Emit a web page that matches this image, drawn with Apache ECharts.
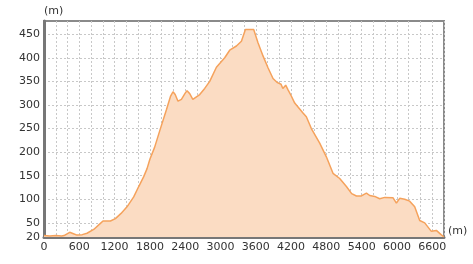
<!DOCTYPE html>
<html><head><meta charset="utf-8">
<script src="https://cdn.jsdelivr.net/npm/echarts@6/dist/echarts.min.js"></script>
<style>html,body{margin:0;padding:0;background:#fff}#c{width:473px;height:264px}</style>
</head><body><div id="c"></div>
<script>
var distances = [0,100,200,300,340,437,500,561,650,731,845,959,1003,1129,1214,1310,1411,1525,1610,1695,1752,1800,1880,1967,2081,2150,2193,2230,2278,2336,2400,2431,2477,2530,2562,2647,2732,2817,2931,3072,3157,3271,3356,3424,3565,3638,3723,3808,3893,3960,4030,4060,4109,4149,4200,4262,4403,4460,4545,4687,4800,4913,5027,5141,5230,5311,5396,5481,5537,5622,5707,5792,5934,5991,6047,6132,6217,6302,6387,6472,6585,6670,6750,6800];
var elevations = [23,22,23,22,23,30,27,24,25,28,36,49,54,54,59,70,84,105,127,148,165,185,210,245,290,318,328,322,308,312,325,330,324,312,308,322,335,350,380,400,416,425,435,460,460,432,404,379,356,348,344,335,342,332,320,304,283,275,250,219,190,155,144,127,112,107,107,113,108,106,101,104,103,92,102,100,96,84,55,50,32,34,25,20];
var yTicks = [20,50,100,150,200,250,300,350,400,450];
var xLabelStep = 600;

var data = distances.map(function(d,i){return [d, elevations[i]];});
var chart = echarts.init(document.getElementById('c'));
var font = 'DejaVu Sans';
chart.setOption({
  animation:false,
  grid:{left:44,right:29,top:21,bottom:27,show:true,borderColor:'#8a8a8a',borderWidth:2},
  xAxis:{type:'value',min:0,max:6800,interval:200,
    name:'(m)',nameLocation:'end',nameGap:4,
    nameTextStyle:{fontFamily:font,fontSize:11,color:'#333',verticalAlign:'bottom'},
    axisLine:{lineStyle:{color:'#777',width:3}},
    axisTick:{show:false},
    axisLabel:{fontFamily:font,fontSize:11,color:'#333',margin:5,
      formatter:function(v){return v % xLabelStep === 0 ? String(v) : '';}},
    splitLine:{show:true,lineStyle:{color:'#c8c8c8',type:[2,2],width:1}}
  },
  yAxis:{type:'value',min:20,max:478,
    name:'(m)',nameLocation:'end',nameGap:4,
    nameTextStyle:{fontFamily:font,fontSize:11,color:'#333',align:'left'},
    axisLine:{show:true,lineStyle:{color:'#777',width:3}},
    axisTick:{show:false,customValues:yTicks},
    axisLabel:{fontFamily:font,fontSize:11,color:'#333',margin:4,customValues:yTicks},
    splitLine:{show:true,lineStyle:{color:'#c8c8c8',type:[2,2],width:1}}
  },
  series:[{type:'line',data:data,showSymbol:false,smooth:false,
    lineStyle:{color:'#f5a25c',width:1.5},
    areaStyle:{color:'#fbdcc3',opacity:1,origin:'start'}
  }]
});
</script></body></html>
